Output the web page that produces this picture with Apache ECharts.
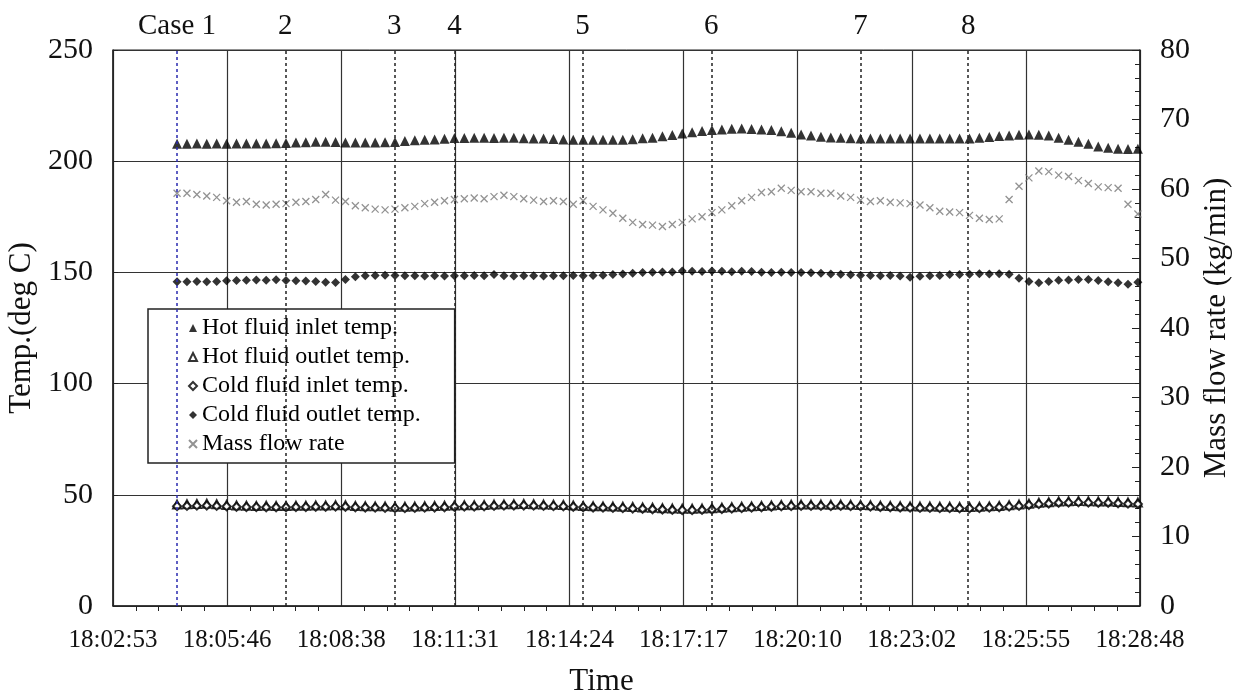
<!DOCTYPE html>
<html>
<head>
<meta charset="utf-8">
<script src="https://cdn.jsdelivr.net/npm/echarts@6/dist/echarts.min.js"></script>
<style>
  html, body { margin: 0; padding: 0; background: #fff; }
  #main { width: 1234px; height: 695px; }
</style>
</head>
<body>
<div id="main"></div>
<script>
  // tick labels of the time axis (Excel major unit = 0.002 day)
  var xLabels = ['18:02:53', '18:05:46', '18:08:38', '18:11:31', '18:14:24',
    '18:17:17', '18:20:10', '18:23:02', '18:25:55', '18:28:48'];

  // sample times (15 s logging)
  var times = ['18:04:30', '18:04:45',
    '18:05:00', '18:05:15', '18:05:30', '18:05:45', '18:06:00', '18:06:15', '18:06:30', '18:06:45',
    '18:07:00', '18:07:15', '18:07:30', '18:07:45', '18:08:00', '18:08:15', '18:08:30', '18:08:45',
    '18:09:00', '18:09:15', '18:09:30', '18:09:45', '18:10:00', '18:10:15', '18:10:30', '18:10:45',
    '18:11:00', '18:11:15', '18:11:30', '18:11:45', '18:12:00', '18:12:15', '18:12:30', '18:12:45',
    '18:13:00', '18:13:15', '18:13:30', '18:13:45', '18:14:00', '18:14:15', '18:14:30', '18:14:45',
    '18:15:00', '18:15:15', '18:15:30', '18:15:45', '18:16:00', '18:16:15', '18:16:30', '18:16:45',
    '18:17:00', '18:17:15', '18:17:30', '18:17:45', '18:18:00', '18:18:15', '18:18:30', '18:18:45',
    '18:19:00', '18:19:15', '18:19:30', '18:19:45', '18:20:00', '18:20:15', '18:20:30', '18:20:45',
    '18:21:00', '18:21:15', '18:21:30', '18:21:45', '18:22:00', '18:22:15', '18:22:30', '18:22:45',
    '18:23:00', '18:23:15', '18:23:30', '18:23:45', '18:24:00', '18:24:15', '18:24:30', '18:24:45',
    '18:25:00', '18:25:15', '18:25:30', '18:25:45', '18:26:00', '18:26:15', '18:26:30', '18:26:45',
    '18:27:00', '18:27:15', '18:27:30', '18:27:45', '18:28:00', '18:28:15', '18:28:30', '18:28:45'];

  var hotInlet = [207.9, 207.9, 208.0, 207.9, 208.0, 207.9, 208.0, 208.0, 208.0, 208.0,
    208.1, 208.2, 208.4, 208.5, 208.7, 208.8, 208.6, 208.4, 208.4, 208.4,
    208.4, 208.5, 208.6, 209.1, 209.4, 209.6, 209.8, 210.1, 210.4, 210.4,
    210.5, 210.5, 210.4, 210.5, 210.5, 210.3, 210.2, 210.2, 210.0, 209.8,
    209.7, 209.6, 209.6, 209.6, 209.6, 209.7, 209.9, 210.3, 210.6, 211.2,
    211.8, 212.5, 213.0, 213.6, 214.0, 214.2, 214.6, 214.7, 214.5, 214.2,
    214.0, 213.5, 212.8, 212.0, 211.5, 211.0, 210.7, 210.5, 210.3, 210.2,
    210.2, 210.2, 210.2, 210.2, 210.2, 210.2, 210.2, 210.2, 210.2, 210.2,
    210.2, 210.6, 210.9, 211.3, 211.6, 211.9, 212.0, 211.9, 211.5, 210.6,
    209.6, 208.7, 207.8, 206.6, 206.1, 205.6, 205.5, 205.6];

  var hotOutlet = [45.6, 45.8, 45.9, 46.0, 45.8, 45.4,
    45.2, 45.1, 45.0, 45.1, 45.0, 45.0, 45.1, 45.1, 45.2, 45.2, 45.3,
    45.3, 45.0, 44.9, 44.8, 44.8, 44.6, 44.6, 44.7, 44.9, 45.0, 45.1,
    45.2, 45.3, 45.3, 45.4, 45.6, 45.7, 45.8, 45.9, 45.8, 45.6, 45.5, 45.4, 45.2,
    45.0, 44.9, 44.8, 44.7, 44.6, 44.5, 44.3, 44.2, 44.0, 43.8, 43.7, 43.7, 43.8, 44.0, 44.2,
    44.4, 44.6, 44.8, 45.0, 45.2, 45.4, 45.5, 45.6, 45.6, 45.6, 45.5, 45.6, 45.5, 45.4, 45.3,
    45.1, 45.0, 44.9, 44.8, 44.7, 44.7, 44.6, 44.6, 44.5, 44.5, 44.6, 44.8, 45.0,
    45.3, 45.6, 46.0, 46.4, 46.7, 47.0, 47.1, 47.2, 47.1, 47.0, 47.0, 46.8, 46.6, 46.5];

  var coldInlet = [44.9, 45.0, 45.1, 45.2, 45.0, 44.8,
    44.6, 44.5, 44.5, 44.4, 44.4, 44.4, 44.5, 44.5, 44.6, 44.6, 44.7,
    44.6, 44.4, 44.3, 44.2, 44.1, 44.0, 44.0, 44.1, 44.2, 44.3, 44.4,
    44.6, 44.7, 44.7, 44.8, 45.0, 45.1, 45.2, 45.2, 45.1, 45.0, 44.9, 44.8, 44.6,
    44.4, 44.3, 44.2, 44.1, 44.0, 43.8, 43.7, 43.5, 43.4, 43.2, 43.1, 43.1, 43.2, 43.4, 43.6,
    43.8, 44.0, 44.2, 44.4, 44.6, 44.8, 44.9, 45.0, 45.0, 45.0, 44.9, 45.0, 44.9, 44.8, 44.7,
    44.5, 44.4, 44.3, 44.2, 44.1, 44.1, 44.0, 44.0, 43.9, 43.9, 44.0, 44.2, 44.4,
    44.7, 45.0, 45.4, 45.8, 46.1, 46.4, 46.5, 46.6, 46.5, 46.4, 46.4, 46.2, 46.0, 45.9];

  var coldOutlet = [145.8, 145.8, 145.9, 145.8, 145.9, 146.2, 146.4, 146.5, 146.6, 146.5,
    146.7, 146.4, 146.2, 146.1, 145.9, 145.6, 145.5, 146.8, 148.0, 148.5,
    148.6, 148.7, 148.6, 148.5, 148.5, 148.4, 148.5, 148.4, 148.5, 148.5,
    148.6, 148.5, 149.1, 148.5, 148.4, 148.5, 148.5, 148.4, 148.5, 148.5,
    148.6, 148.5, 148.6, 148.7, 149.1, 149.3, 149.6, 149.9, 150.1, 150.2,
    150.2, 150.6, 150.5, 150.4, 150.6, 150.5, 150.3, 150.5, 150.4, 150.1,
    150.0, 150.1, 150.0, 149.9, 149.8, 149.6, 149.3, 149.2, 148.9, 148.7,
    148.6, 148.5, 148.6, 148.4, 147.8, 148.3, 148.5, 148.6, 149.0, 149.0,
    149.2, 149.4, 149.3, 149.4, 149.2, 147.4, 145.9, 145.3, 145.9, 146.5,
    146.6, 146.8, 146.8, 146.4, 145.8, 145.3, 144.7, 145.6];

  var massFlow = [59.4, 59.4, 59.2, 59.0, 58.8, 58.3, 58.1, 58.2, 57.8, 57.7,
    57.8, 57.9, 58.1, 58.2, 58.5, 59.2, 58.4, 58.2, 57.6, 57.3,
    57.1, 57.0, 57.1, 57.3, 57.5, 57.9, 58.1, 58.3, 58.5, 58.6,
    58.7, 58.6, 58.9, 59.1, 58.9, 58.6, 58.4, 58.2, 58.3, 58.2,
    57.8, 58.3, 57.5, 57.0, 56.5, 55.8, 55.2, 54.9, 54.8, 54.6,
    54.9, 55.2, 55.7, 56.0, 56.6, 57.0, 57.6, 58.3, 58.8, 59.5,
    59.6, 60.1, 59.8, 59.6, 59.6, 59.4, 59.4, 59.0, 58.8, 58.4,
    58.2, 58.3, 58.1, 58.0, 57.9, 57.7, 57.3, 56.8, 56.7, 56.6,
    56.2, 55.8, 55.6, 55.7, 58.5, 60.4, 61.6, 62.6, 62.5, 62.0,
    61.8, 61.2, 60.8, 60.3, 60.2, 60.1, 57.8, 56.4];

  // start of each test case and the label printed above it
  var caseTimes = ['18:04:30', '18:07:14', '18:09:59', '18:11:30', '18:14:44', '18:17:59', '18:21:45', '18:24:28'];
  var caseNames = ['Case 1', '2', '3', '4', '5', '6', '7', '8'];

  var seriesNames = ['Hot fluid inlet temp.', 'Hot fluid outlet temp.', 'Cold fluid inlet temp.',
    'Cold fluid outlet temp.', 'Mass flow rate'];

  var font = "'Liberation Serif', 'Times New Roman', serif";
  var step = 172.8;

  function toSec(s) {
    var p = s.split(':');
    return (+p[0]) * 3600 + (+p[1]) * 60 + (+p[2]);
  }
  var base = toSec(xLabels[0]);
  function pairs(vals) {
    var out = [];
    for (var i = 0; i < vals.length; i++) {
      out.push([toSec(times[i]) - base, vals[i]]);
    }
    return out;
  }

  var caseLines = [];
  for (var i = 0; i < caseTimes.length; i++) {
    caseLines.push({
      xAxis: toSec(caseTimes[i]) - base,
      label: { formatter: caseNames[i] },
      lineStyle: { color: i == 0 ? '#2a2ab0' : '#222' }
    });
  }

  var chart = echarts.init(document.getElementById('main'));
  chart.setOption({
    animation: false,
    backgroundColor: '#fff',
    grid: {
      left: 113, right: 94, top: 50, bottom: 89,
      show: true, borderColor: '#222', borderWidth: 1,
      outerBoundsMode: 'none'
    },
    legend: {
      data: seriesNames,
      orient: 'vertical',
      left: 148,
      top: 309,
      itemWidth: 8,
      itemHeight: 8,
      itemGap: 5,
      padding: [7, 34, 7, 40],
      backgroundColor: '#fff',
      borderColor: '#222',
      borderWidth: 1.5,
      textStyle: { fontFamily: font, fontSize: 24, color: '#000' }
    },
    xAxis: {
      type: 'value',
      min: 0,
      max: step * 9,
      interval: step,
      name: 'Time',
      nameLocation: 'middle',
      nameGap: 60,
      nameTextStyle: { fontFamily: font, fontSize: 31, color: '#111', padding: [0, 50, 0, 0] },
      axisLine: { lineStyle: { color: '#222', width: 1.5 } },
      axisTick: { show: false },
      minorTick: { show: true, splitNumber: 5, length: 5, lineStyle: { color: '#222' } },
      axisLabel: {
        margin: 22, fontFamily: font, fontSize: 25, color: '#111',
        formatter: function (v) { return xLabels[Math.round(v / step)]; }
      },
      splitLine: { show: true, lineStyle: { color: '#333', width: 1.2 } }
    },
    yAxis: [{
      type: 'value',
      min: 0,
      max: 250,
      interval: 50,
      name: 'Temp.(deg C)',
      nameLocation: 'middle',
      nameGap: 72,
      nameTextStyle: { fontFamily: font, fontSize: 31, color: '#111' },
      axisLine: { show: true, lineStyle: { color: '#222', width: 1.5 } },
      axisTick: { show: true, inside: true, length: 5, lineStyle: { color: '#222' } },
      axisLabel: { margin: 20, fontFamily: font, fontSize: 30, color: '#111' },
      splitLine: { show: true, lineStyle: { color: '#333', width: 1.2 } }
    }, {
      type: 'value',
      position: 'right',
      min: 0,
      max: 80,
      interval: 10,
      name: 'Mass flow rate (kg/min)',
      nameLocation: 'middle',
      nameRotate: 90,
      nameGap: 58,
      nameTextStyle: { fontFamily: font, fontSize: 31, color: '#111' },
      axisLine: { show: true, lineStyle: { color: '#222', width: 1.5 } },
      axisTick: { show: true, inside: true, length: 8, lineStyle: { color: '#222' } },
      minorTick: { show: true, splitNumber: 5, length: 5, lineStyle: { color: '#222' } },
      axisLabel: { margin: 20, fontFamily: font, fontSize: 30, color: '#111' },
      splitLine: { show: false }
    }],
    series: [{
      name: seriesNames[0],
      type: 'scatter',
      symbol: 'triangle',
      symbolSize: 10,
      itemStyle: { color: '#000' },
      data: pairs(hotInlet),
      markLine: {
        silent: true,
        symbol: 'none',
        lineStyle: { type: [3, 3], width: 1.5 },
        label: {
          show: true, position: 'end', distance: 9,
          fontFamily: font, fontSize: 29, color: '#111'
        },
        data: caseLines
      }
    }, {
      name: seriesNames[1],
      type: 'scatter',
      symbol: 'emptyTriangle',
      symbolSize: 8,
      itemStyle: { color: '#000', borderWidth: 1 },
      data: pairs(hotOutlet)
    }, {
      name: seriesNames[2],
      type: 'scatter',
      symbol: 'emptyDiamond',
      symbolSize: 8,
      itemStyle: { color: '#000', borderWidth: 1 },
      data: pairs(coldInlet)
    }, {
      name: seriesNames[3],
      type: 'scatter',
      symbol: 'diamond',
      symbolSize: 9,
      itemStyle: { color: '#000' },
      data: pairs(coldOutlet)
    }, {
      name: seriesNames[4],
      type: 'scatter',
      yAxisIndex: 1,
      symbol: 'path://M0,0 L10,10 M10,0 L0,10',
      symbolSize: 7,
      itemStyle: { color: '#777', borderColor: '#777', borderWidth: 1.3 },
      data: pairs(massFlow)
    }]
  });
</script>
</body>
</html>
